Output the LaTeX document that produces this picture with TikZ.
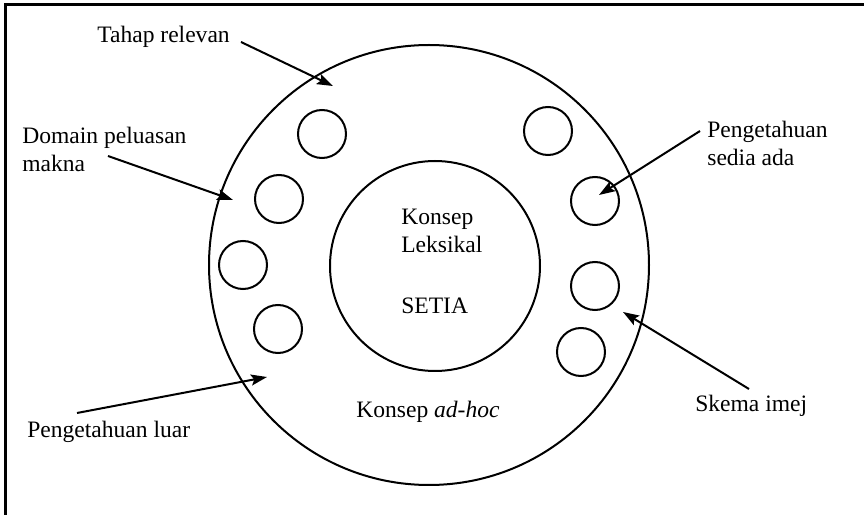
\documentclass[tikz,border=0pt]{standalone}
\usepackage{fontspec}
\setmainfont{Liberation Serif}
\usetikzlibrary{arrows.meta}

\begin{document}
\begin{tikzpicture}[
  font=\fontsize{13.4}{16.4}\selectfont,
  ring/.style={circle, draw, line width=0.04cm, inner sep=0pt},
  smallring/.style={ring, minimum size=0.96cm},
  pointer/.style={line width=0.04cm, -{Stealth[length=0.32cm,width=0.22cm,inset=0.06cm]}},
  tag/.style={inner sep=0pt, anchor=base west, align=left}
]

\useasboundingbox (0,0) rectangle (17.28,10.30);
\draw[line width=0.06cm] (0.10,-0.5) |- (17.8,10.20);

% main rings
\node[ring, minimum size=8.80cm] (outer) at (8.58,5.00) {};
\node[ring, minimum size=4.20cm] (inner) at (8.70,4.98) {};

% small rings, left side
\node[smallring] (c1) at (6.44,7.62) {};
\node[smallring] (c2) at (5.58,6.32) {};
\node[smallring] (c3) at (4.86,5.00) {};
\node[smallring] (c4) at (5.56,3.72) {};
% small rings, right side
\node[smallring] (c5) at (10.96,7.68) {};
\node[smallring] (c6) at (11.90,6.28) {};
\node[smallring] (c7) at (11.90,4.58) {};
\node[smallring] (c8) at (11.62,3.26) {};

% texts (base = last line)
\node[tag] (leksikal) at (8.02,5.24) {Konsep\\Leksikal};
\node[tag] (setia) at (8.02,4.02) {SETIA};
\node[tag] (adhoc) at (7.12,1.94) {Konsep \textit{ad-hoc}};
\node[tag] (tahap) at (1.94,9.44) {Tahap relevan};
\node[tag] (domain) at (0.44,6.86) {Domain peluasan\\makna};
\node[tag] (sedia) at (14.14,6.98) {Pengetahuan\\sedia ada};
\node[tag] (skema) at (13.90,2.06) {Skema imej};
\node[tag] (luar) at (0.54,1.54) {Pengetahuan luar};

% arrows
\coordinate (tahap-s) at (4.82,9.46);
\coordinate (tahap-e) at (6.66,8.58);
\coordinate (domain-s) at (2.16,7.18);
\coordinate (domain-e) at (4.66,6.30);
\coordinate (sedia-s) at (14.00,7.68);
\coordinate (sedia-e) at (11.98,6.40);
\coordinate (skema-s) at (14.98,2.52);
\coordinate (skema-e) at (12.46,4.06);
\coordinate (luar-s) at (1.54,2.04);
\coordinate (luar-e) at (5.34,2.76);
\draw[pointer] (tahap-s) -- (tahap-e);
\draw[pointer] (domain-s) -- (domain-e);
\draw[pointer] (sedia-s) -- (sedia-e);
\draw[pointer] (skema-s) -- (skema-e);
\draw[pointer] (luar-s) -- (luar-e);

\end{tikzpicture}
\end{document}
